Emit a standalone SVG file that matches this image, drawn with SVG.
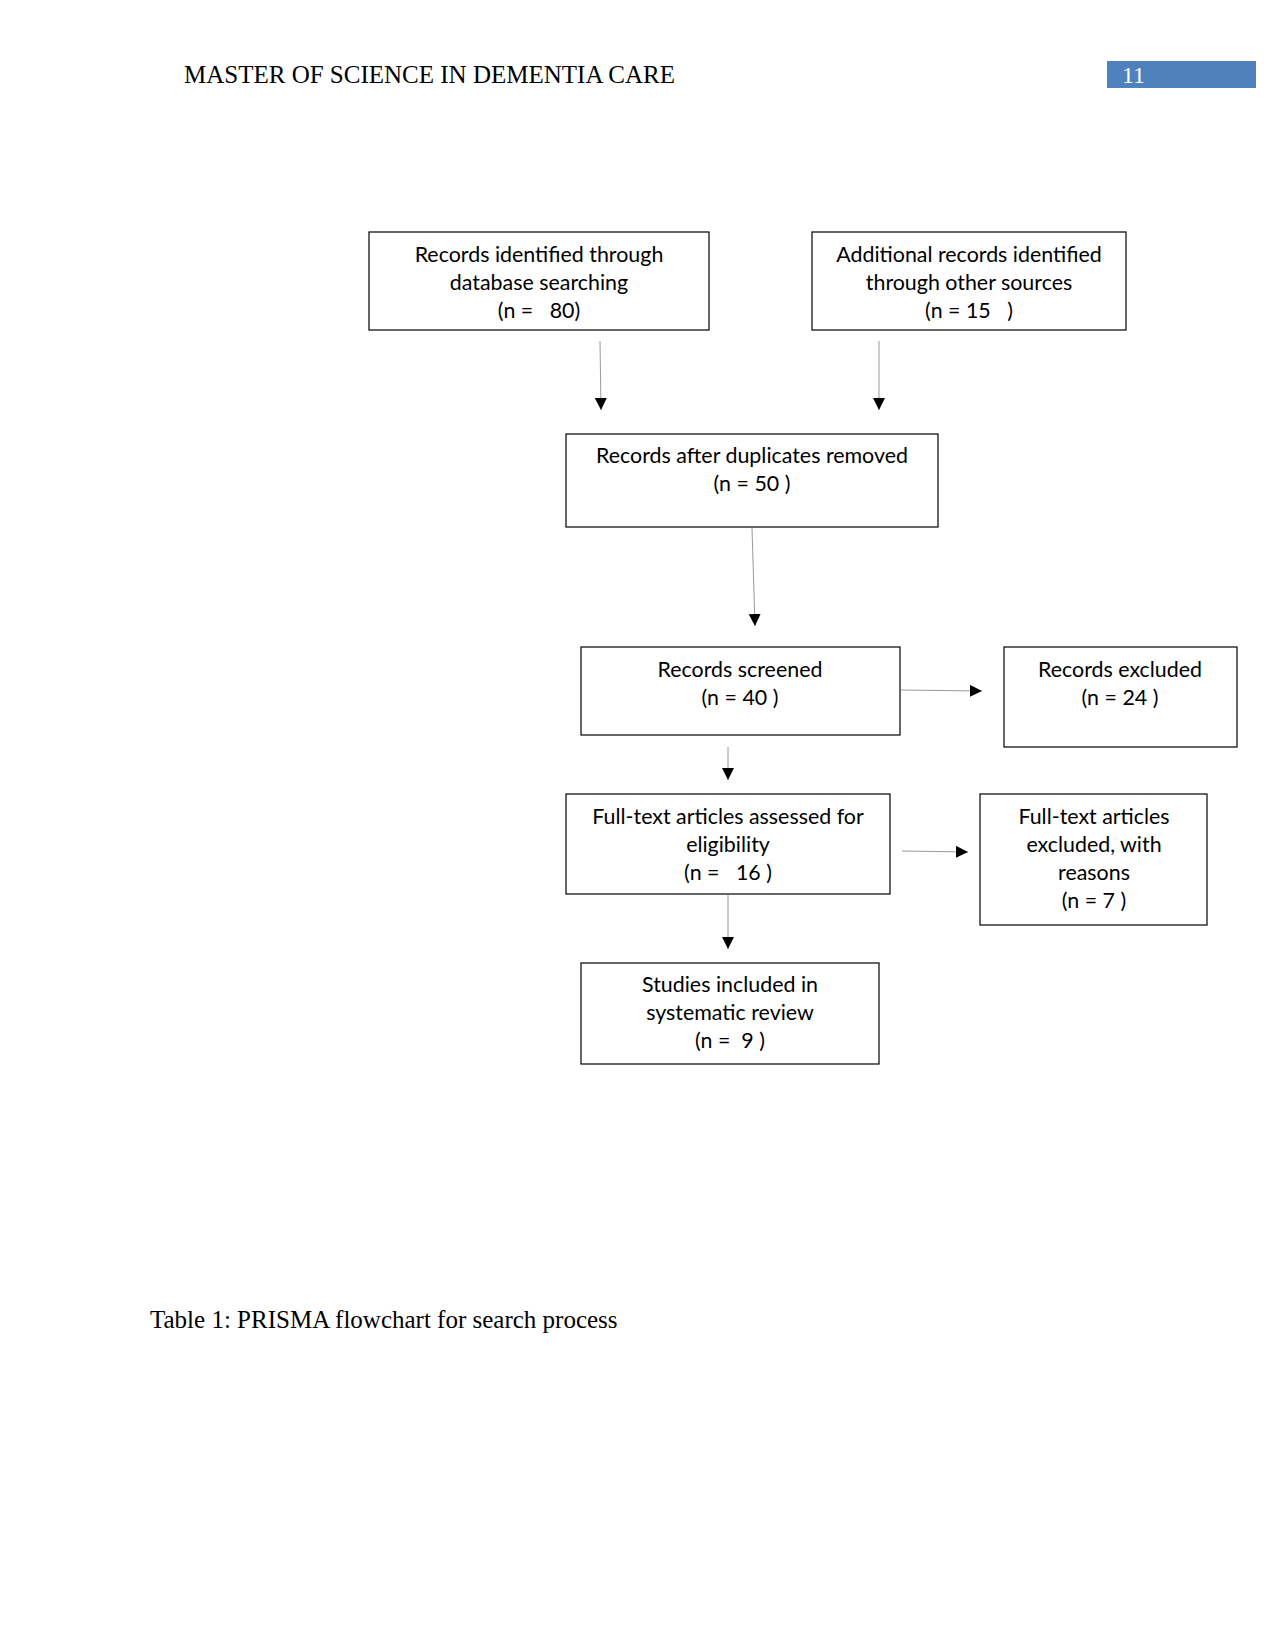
<svg xmlns="http://www.w3.org/2000/svg" width="1275" height="1650" viewBox="0 0 1275 1650">
<style>
.box{fill:#fff;stroke:#000;stroke-width:1.2}
.t{font-family:Lato,"Liberation Sans",sans-serif;font-size:21.4px;fill:#000;text-anchor:middle}
.ser{font-family:"Liberation Serif",serif;fill:#000}
.ln{stroke:#9a9a9a;stroke-width:1;fill:none}
</style>
<defs>
<marker id="ah" markerWidth="12" markerHeight="12" refX="12" refY="6" orient="auto" markerUnits="userSpaceOnUse">
<path d="M0,0 L12,6 L0,12 Z" fill="#000"/>
</marker>
</defs>
<rect width="1275" height="1650" fill="#fff"/>
<g id="header">
<text class="ser" x="184" y="83" font-size="25">MASTER OF SCIENCE IN DEMENTIA CARE</text>
<rect x="1107" y="61" width="149" height="27" fill="#4f81bd"/>
<text class="ser" x="1122" y="83" font-size="24" style="fill:#fff">11</text>
</g>
<g id="connectors">
<line class="ln" x1="600" y1="341" x2="601" y2="410" marker-end="url(#ah)"/>
<line class="ln" x1="879" y1="341" x2="879" y2="410" marker-end="url(#ah)"/>
<line class="ln" x1="752" y1="528" x2="755" y2="626" marker-end="url(#ah)"/>
<line class="ln" x1="901" y1="690" x2="982" y2="691" marker-end="url(#ah)"/>
<line class="ln" x1="728" y1="747" x2="728" y2="780" marker-end="url(#ah)"/>
<line class="ln" x1="902" y1="851" x2="968" y2="852" marker-end="url(#ah)"/>
<line class="ln" x1="728" y1="895" x2="728" y2="949" marker-end="url(#ah)"/>
</g>
<g id="n1">
<rect class="box" x="369" y="232" width="340" height="98"/>
<text class="t" x="539" y="262">Records identified through</text>
<text class="t" x="539" y="290">database searching</text>
<text class="t" x="539" y="318" xml:space="preserve">(n =   80)</text>
</g>
<g id="n2">
<rect class="box" x="812" y="232" width="314" height="98"/>
<text class="t" x="969" y="262">Additional records identified</text>
<text class="t" x="969" y="290">through other sources</text>
<text class="t" x="969" y="318" xml:space="preserve">(n = 15   )</text>
</g>
<g id="n3">
<rect class="box" x="566" y="434" width="372" height="93"/>
<text class="t" x="752" y="463">Records after duplicates removed</text>
<text class="t" x="752" y="491">(n = 50 )</text>
</g>
<g id="n4">
<rect class="box" x="581" y="647" width="319" height="88"/>
<text class="t" x="740" y="677">Records screened</text>
<text class="t" x="740" y="705">(n = 40 )</text>
</g>
<g id="n5">
<rect class="box" x="1004" y="647" width="233" height="100"/>
<text class="t" x="1120" y="677">Records excluded</text>
<text class="t" x="1120" y="705">(n = 24 )</text>
</g>
<g id="n6">
<rect class="box" x="566" y="794" width="324" height="100"/>
<text class="t" x="728" y="824">Full-text articles assessed for</text>
<text class="t" x="728" y="852">eligibility</text>
<text class="t" x="728" y="880" xml:space="preserve">(n =   16 )</text>
</g>
<g id="n7">
<rect class="box" x="980" y="794" width="227" height="131"/>
<text class="t" x="1094" y="824">Full-text articles</text>
<text class="t" x="1094" y="852">excluded, with</text>
<text class="t" x="1094" y="880">reasons</text>
<text class="t" x="1094" y="908">(n = 7 )</text>
</g>
<g id="n8">
<rect class="box" x="581" y="963" width="298" height="101"/>
<text class="t" x="730" y="992">Studies included in</text>
<text class="t" x="730" y="1020">systematic review</text>
<text class="t" x="730" y="1048" xml:space="preserve">(n =  9 )</text>
</g>
<g id="caption">
<text class="ser" x="150" y="1328" font-size="25">Table 1: PRISMA flowchart for search process</text>
</g>
</svg>
